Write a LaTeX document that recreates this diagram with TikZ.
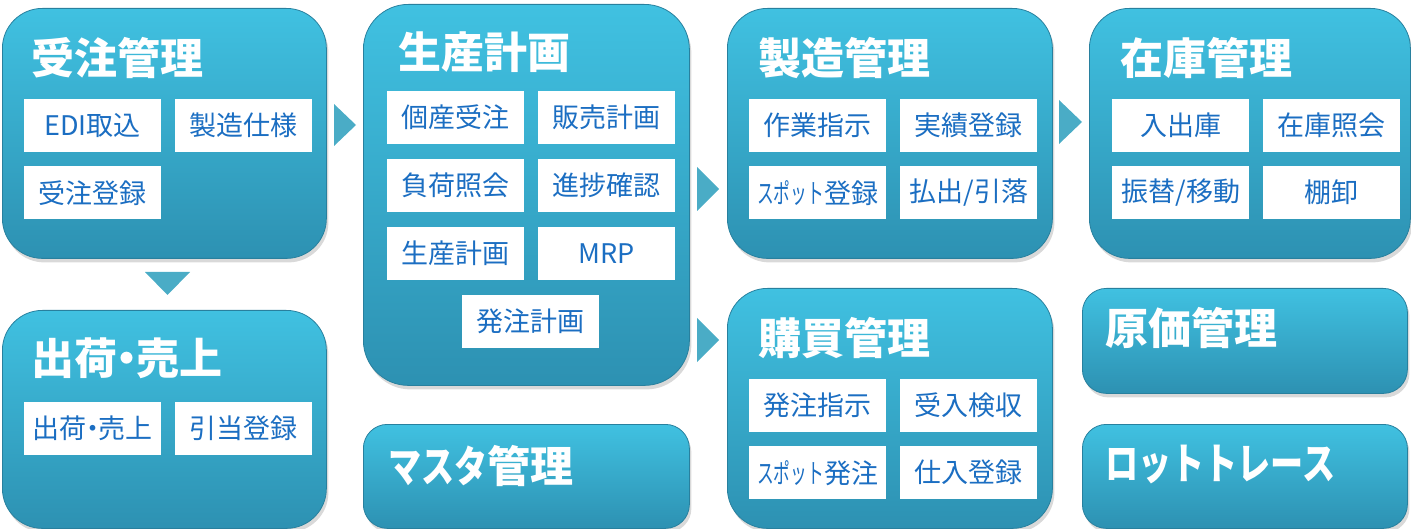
\documentclass[tikz,border=0pt]{standalone}
\usepackage{fontspec}
\usepackage{graphicx}
\setmainfont{Noto Sans CJK JP}
\usetikzlibrary{shadows}

\definecolor{boxtop}{RGB}{64,193,225}
\definecolor{boxbot}{RGB}{45,145,178}
\definecolor{boxedge}{RGB}{40,128,158}
\definecolor{arrowc}{RGB}{74,172,198}
\definecolor{itemtext}{RGB}{27,110,194}

\tikzset{
  box/.style={anchor=north west,rounded corners=40pt,inner sep=0pt,
    top color=boxtop,bottom color=boxbot,draw=boxedge,line width=.8pt,
    drop shadow={opacity=.3,shadow xshift=2pt,shadow yshift=-4pt}},
  smallbox/.style={box,rounded corners=24pt},
  ttl/.style={anchor=west,inner sep=0pt,text=white,
    font=\fontsize{43}{43}\selectfont\bfseries},
  item/.style={anchor=north west,fill=white,minimum width=137pt,minimum height=53pt,
    inner sep=0pt,text=itemtext,font=\fontsize{27}{27}\selectfont},
  arr/.style={fill=arrowc}
}
\newcommand{\spot}{\scalebox{0.62}[1]{スポット}}
\newcommand{\kana}[1]{\scalebox{0.77}[1]{#1}}

\begin{document}
\begin{tikzpicture}[x=1pt,y=-1pt]
\useasboundingbox (0,0) rectangle (1411,529);
% big boxes
\node[box,minimum width=324pt,minimum height=250pt] (juchu) at (2,8) {};
\node[box,minimum width=324pt,minimum height=218pt] (shukka) at (2,310) {};
\node[box,rounded corners=45pt,minimum width=326pt,minimum height=381pt] (seisan) at (363,4) {};
\node[smallbox,minimum width=326pt,minimum height=104pt] (masuta) at (363,424) {};
\node[box,minimum width=325pt,minimum height=250pt] (seizo) at (727,8) {};
\node[box,minimum width=325pt,minimum height=240pt] (kobai) at (727,288) {};
\node[box,minimum width=321pt,minimum height=250pt] (zaiko) at (1089,8) {};
\node[smallbox,minimum width=325pt,minimum height=105pt] (genka) at (1082,288) {};
\node[smallbox,minimum width=325pt,minimum height=104pt] (lot) at (1082,424) {};
% titles
\node[ttl] (juchu-t) at (31,58) {受注管理};
\node[ttl] (shukka-t) at (31,358) {出荷\makebox[.45em]{・}売上};
\node[ttl] (seisan-t) at (398,52) {生産計画};
\node[ttl] (masuta-t) at (388,466) {\kana{マスタ}管理};
\node[ttl] (seizo-t) at (758,58) {製造管理};
\node[ttl] (kobai-t) at (758,338) {購買管理};
\node[ttl] (zaiko-t) at (1120,58) {在庫管理};
\node[ttl] (genka-t) at (1105,328) {原価管理};
\node[ttl] (lot-t) at (1105,465) {\kana{ロットトレース}};
% items
\node[item] (j1) at (24,99) {EDI取込};
\node[item] (j2) at (175,99) {製造仕様};
\node[item] (j3) at (24,166) {受注登録};
\node[item] (s1) at (24,402) {出荷\makebox[.45em]{・}売上};
\node[item] (s2) at (175,402) {引当登録};
\node[item] (p1) at (387,91) {個産受注};
\node[item] (p2) at (538,91) {販売計画};
\node[item] (p3) at (387,159) {負荷照会};
\node[item] (p4) at (538,159) {進捗確認};
\node[item] (p5) at (387,227) {生産計画};
\node[item] (p6) at (538,227) {MRP};
\node[item] (p7) at (462,295) {発注計画};
\node[item] (m1) at (749,99) {作業指示};
\node[item] (m2) at (900,99) {実績登録};
\node[item] (m3) at (749,166) {\spot 登録};
\node[item] (m4) at (900,166) {払出/引落};
\node[item] (z1) at (1112,99) {入出庫};
\node[item] (z2) at (1263,99) {在庫照会};
\node[item] (z3) at (1112,166) {振替/移動};
\node[item] (z4) at (1263,166) {棚卸};
\node[item] (k1) at (749,379) {発注指示};
\node[item] (k2) at (900,379) {受入検収};
\node[item] (k3) at (749,446) {\spot 発注};
\node[item] (k4) at (900,446) {仕入登録};
% flow arrows
\fill[arr] (334,104) -- (356,125) -- (334,146) -- cycle;
\fill[arr] (145,272) -- (190,272) -- (167.5,295) -- cycle;
\fill[arr] (697,167) -- (719,189) -- (697,211) -- cycle;
\fill[arr] (697,318) -- (719,340) -- (697,362) -- cycle;
\fill[arr] (1059,100) -- (1082,122) -- (1059,144) -- cycle;
\end{tikzpicture}
\end{document}
